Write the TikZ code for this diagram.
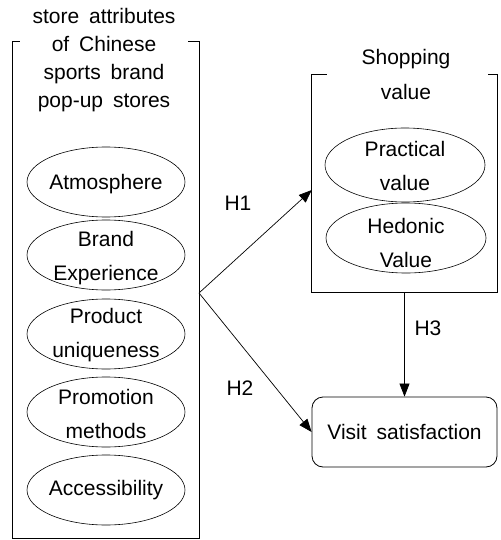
\documentclass[tikz,border=0pt]{standalone}
\usepackage{fontspec}
\setmainfont[WordSpace=1.7]{Liberation Sans}
\usetikzlibrary{shapes.geometric,arrows.meta,calc}
\begin{document}
\begin{tikzpicture}[x=1pt,y=-1pt,
  oval/.style={draw, ellipse, minimum width=158pt, minimum height=70pt, inner sep=0pt, line width=0.6pt},
  frame/.style={minimum width=185pt, inner sep=0pt},
  txt/.style={align=center, inner sep=0pt, font=\fontsize{21}{34}\selectfont},
  ttl/.style={align=center, inner sep=0pt, font=\fontsize{21}{28}\selectfont},
  hlab/.style={inner sep=0pt, font=\fontsize{21}{24}\selectfont},
  arr/.style={-{Triangle[length=13pt,width=10pt]}, line width=0.7pt},
  edge/.style={line width=0.8pt}]
\useasboundingbox (0,0) rectangle (500,540);

% left box
\node[frame, minimum width=186pt, minimum height=496pt] (lbox) at (106,290) {};
\draw[edge] ([xshift=7pt]lbox.north west) -- (lbox.north west) -- (lbox.south west)
  -- (lbox.south east) -- (lbox.north east) -- ([xshift=-11pt]lbox.north east);
\node[ttl] (ltitle) at (104,60) {store attributes\\of Chinese\\sports brand\\pop-up stores};

\node[oval] (atm) at (106,182) {};
\node[txt] (atmT) at (106,184) {Atmosphere};
\node[oval] (bre) at (106,255) {};
\node[txt] (breT) at (106,258) {Brand\\Experience};
\node[oval] (pru) at (106,334) {};
\node[txt] (pruT) at (106,335) {Product\\uniqueness};
\node[oval] (prm) at (106,412) {};
\node[txt] (prmT) at (106,414) {Promotion\\methods};
\node[oval] (acc) at (106,490) {};
\node[txt] (accT) at (106,490) {Accessibility};

% shopping value box
\node[frame, minimum height=217pt] (sbox) at (404.5,183.5) {};
\draw[edge] ([xshift=15pt]sbox.north west) -- (sbox.north west) -- (sbox.south west)
  -- (sbox.south east) -- (sbox.north east) -- ([xshift=-9pt]sbox.north east);
\node[txt, font=\fontsize{21}{35}\selectfont] (stitle) at (406,74) {Shopping\\value};
\node[oval, minimum width=160pt, minimum height=74pt] (prv) at (405,165) {};
\node[txt] (prvT) at (405,166) {Practical\\value};
\node[oval, minimum width=160pt, minimum height=70pt] (hed) at (406,238) {};
\node[txt] (hedT) at (406,243) {Hedonic\\Value};

% visit satisfaction
\node[draw, edge, rounded corners=11pt, minimum width=185pt, minimum height=70pt, inner sep=0pt,
  font=\fontsize{21}{24}\selectfont] (visit) at (404.5,432) {Visit satisfaction};

% connectors
\coordinate (apex) at (199,293);
\draw[arr] (apex) -- ([yshift=-6.5pt]sbox.west);
\draw[arr] (apex) -- (visit.west);
\draw[arr] (sbox.south) -- (visit.north);

\node[hlab] (h1) at (238,203) {H1};
\node[hlab] (h2) at (240,388) {H2};
\node[hlab] (h3) at (428,328) {H3};
\end{tikzpicture}
\end{document}
